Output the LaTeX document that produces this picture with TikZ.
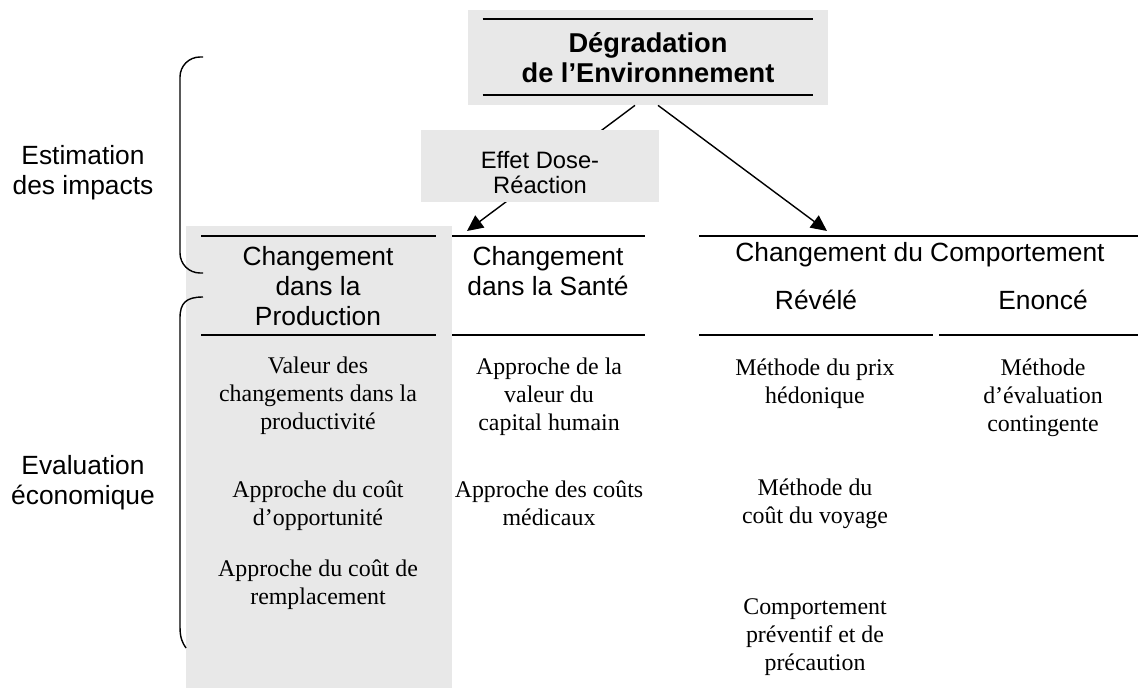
\documentclass[tikz,border=0pt]{standalone}
\usepackage{fontspec}
\setmainfont{Liberation Serif}
\setsansfont{Liberation Sans}
\usetikzlibrary{arrows.meta, positioning, calc}
\definecolor{panel}{HTML}{E8E8E8}
\definecolor{ink}  {HTML}{000000}

\tikzset{
  heading/.style={font=\sffamily\fontsize{15}{17}\selectfont, text=ink, align=center, inner sep=0pt},
  method/.style={font=\rmfamily\fontsize{13.6}{15.9}\selectfont, text=ink, align=center, inner sep=0pt},
  rule/.style={ink, line width=1.1pt},
  brace/.style={ink, line width=0.8pt},
  impact/.style={ink, line width=0.8pt, -{Triangle[length=0.32cm, width=0.3cm]}},
}

\begin{document}
\begin{tikzpicture}
  \useasboundingbox (0,0) rectangle (22.76,13.76);

  % grey column under the production approaches
  \fill[panel] (3.72,0) rectangle (9.04,9.24);

  \draw[brace, rounded corners=0.4cm] (4.06,12.62) -- (3.6,12.62) -- (3.6,8.3) -- (4.06,8.3);
  \draw[brace] (4.06,7.82) .. controls (3.72,7.82) and (3.6,7.7) .. (3.6,7.4)
    -- (3.6,1.22) .. controls (3.6,1.0) and (3.65,0.9) .. (3.72,0.8);
  \node[heading] (estim) at (1.66,10.3) {Estimation\\des impacts};
  \node[heading] (evalu) at (1.66,4.1) {Evaluation\\économique};

  \node[fill=panel, minimum width=7.2cm, minimum height=1.9cm, inner sep=0pt,
        font=\sffamily\bfseries\fontsize{15.5}{17}\selectfont, align=center] (env)
        at (12.96,12.61) {Dégradation\\de l’Environnement};
  \draw[rule] ($(env.north west)+(0.3,-0.18)$) -- ($(env.north east)+(-0.3,-0.18)$);
  \draw[rule] ($(env.south west)+(0.3,0.2)$) -- ($(env.south east)+(-0.3,0.2)$);

  \coordinate (prodtop) at (9.34,9.14);
  \coordinate (comptop) at (16.54,9.14);
  \draw[impact] ($(env.south)+(-0.26,0)$) -- (prodtop);
  \draw[impact] ($(env.south)+(0.2,0)$) -- (comptop);

  \node[fill=panel, minimum width=4.76cm, minimum height=1.44cm, inner sep=0pt] (dose) at (10.8,10.44) {};
  \node[font=\sffamily\fontsize{13.5}{14.2}\selectfont, text=ink, align=center, inner sep=0pt]
        (dosetxt) at (10.8,10.31) {Effet Dose-\\Réaction};

  \foreach \a/\b in {4.02/8.72, 9.04/12.9, 13.98/22.76}
    \draw[rule] (\a,9.04) -- (\b,9.04);
  \foreach \a/\b in {4.02/8.72, 9.04/12.9, 13.98/18.66, 18.78/22.76}
    \draw[rule] (\a,7.06) -- (\b,7.06);

  \node[heading] (prod)   at (6.36,8.04)  {Changement\\dans la\\Production};
  \node[heading] (sante)  at (10.96,8.34) {Changement\\dans la Santé};
  \node[heading] (comp)   at (18.4,8.66)  {Changement du Comportement};
  \node[heading] (revele) at (16.32,7.76) {Révélé};
  \node[heading] (enonce) at (20.86,7.76) {Enoncé};

  \node[method] (valprod) at (6.36,5.84)  {Valeur des\\changements dans la\\productivité};
  \node[method] (opport)  at (6.36,3.65)  {Approche du coût\\d’opportunité};
  \node[method] (rempl)   at (6.36,2.07)  {Approche du coût de\\remplacement};
  \node[method] (capital) at (10.98,5.82) {Approche de la\\valeur du\\capital humain};
  \node[method] (medic)   at (10.98,3.69) {Approche des coûts\\médicaux};
  \node[method] (hedon)   at (16.3,6.08)  {Méthode du prix\\hédonique};
  \node[method] (voyage)  at (16.3,3.68)  {Méthode du\\coût du voyage};
  \node[method] (precau)  at (16.3,1.01)  {Comportement\\préventif et de\\précaution};
  \node[method] (conting) at (20.86,5.81) {Méthode\\d’évaluation\\contingente};
\end{tikzpicture}
\end{document}
